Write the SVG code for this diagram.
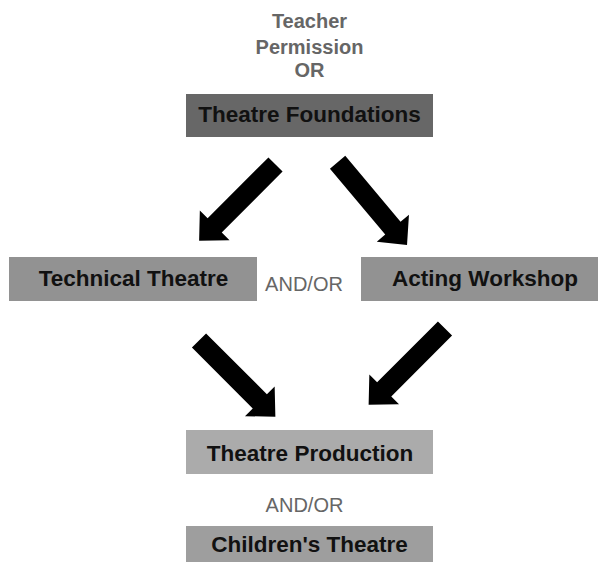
<svg xmlns="http://www.w3.org/2000/svg" xmlns:xlink="http://www.w3.org/1999/xlink" width="598" height="562" viewBox="0 0 598 562">
<style>
.lbl{font-family:"Liberation Sans",Arial,sans-serif;font-weight:bold;font-size:22.5px;fill:#111;text-anchor:middle}
.note{font-family:"Liberation Sans",Arial,sans-serif;font-size:20px;fill:#666;text-anchor:middle}
.noteb{font-family:"Liberation Sans",Arial,sans-serif;font-weight:bold;font-size:20px;fill:#666;text-anchor:middle}
.arr{fill:#000}
</style>
<defs>
<path id="arrow" d="M0,-10 L86,-10 L86,-21 L108,0 L86,21 L86,10 L0,10 Z"/>
</defs>
<rect width="598" height="562" fill="#fff"/>
<g id="prereq-note">
<text class="noteb" x="309.5" y="28">Teacher</text>
<text class="noteb" x="309.5" y="54">Permission</text>
<text class="noteb" x="309.5" y="77">OR</text>
</g>
<g id="theatre-foundations">
<rect x="186" y="94" width="247" height="43" fill="#676767"/>
<text class="lbl" x="309.5" y="122">Theatre Foundations</text>
</g>
<g id="technical-theatre">
<rect x="9" y="257" width="248" height="44" fill="#929292"/>
<text class="lbl" x="133.5" y="286">Technical Theatre</text>
</g>
<g id="andor-1">
<text class="note" x="304" y="291">AND/OR</text>
</g>
<g id="acting-workshop">
<rect x="361" y="257" width="250" height="44" fill="#929292"/>
<text class="lbl" x="485" y="286">Acting Workshop</text>
</g>
<g id="theatre-production">
<rect x="186" y="430" width="247" height="44" fill="#ababab"/>
<text class="lbl" x="310" y="461">Theatre Production</text>
</g>
<g id="andor-2">
<text class="note" x="304.5" y="512">AND/OR</text>
</g>
<g id="childrens-theatre">
<rect x="186" y="526" width="247" height="44" fill="#9e9e9e"/>
<text class="lbl" x="309.5" y="552">Children's Theatre</text>
</g>
<g id="connectors" class="arr">
<use xlink:href="#arrow" transform="translate(275.5,164.5) rotate(135)"/>
<use xlink:href="#arrow" transform="translate(337.6,162.3) rotate(50)"/>
<use xlink:href="#arrow" transform="translate(199,340.5) rotate(45)"/>
<use xlink:href="#arrow" transform="translate(445,328.5) rotate(135)"/>
</g>
</svg>
